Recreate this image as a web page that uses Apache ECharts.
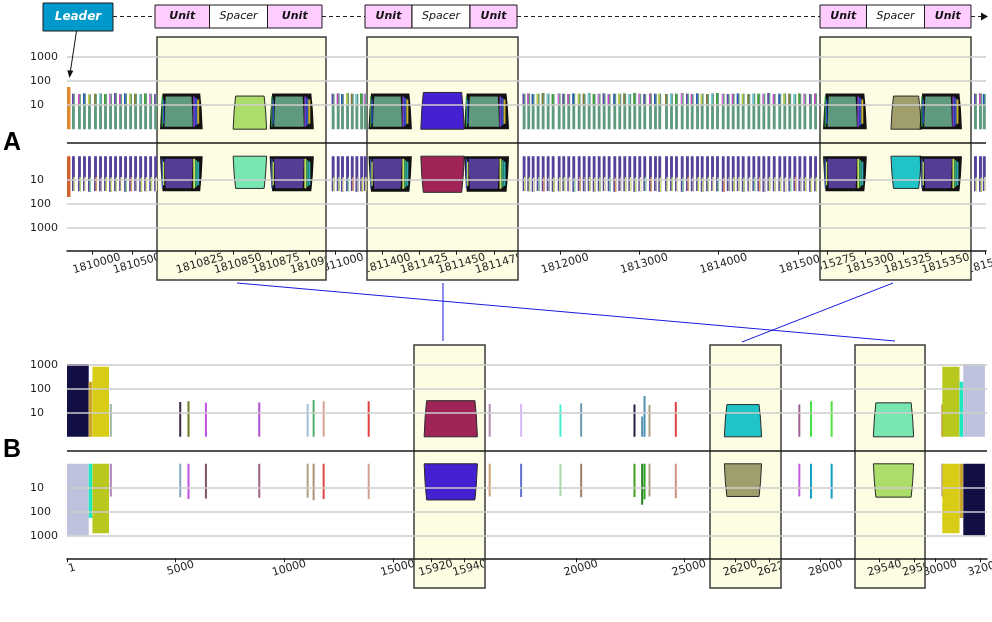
<!DOCTYPE html>
<html><head><meta charset="utf-8">
<script src="https://cdn.jsdelivr.net/npm/echarts@6/dist/echarts.min.js"></script>
<style>html,body{margin:0;padding:0;background:#fff}#c{width:992px;height:622px}</style>
</head><body><div id="c"></div>
<script>
// ================= DATA =================
const repeatLen = 36; // bp

// ---- Panel A : axis domains (bp) of the 7 segments (odd ones are zoom boxes)
const aRanges = [[1809690,1810812],[1810800,1810911],[1810890,1811400],[1811390,1811491],[1811470,1815277],[1815270,1815370],[1815320,1815505]];
const aTicks  = [[1810000,1810500],[1810825,1810850,1810875,1810900],[1811000],[1811400,1811425,1811450,1811475],[1812000,1813000,1814000,1815000],[1815275,1815300,1815325,1815350],[1815500]];

// leader block
const aLeaderStart = [1809688];
const aLeaderEnd   = [1809733];
const aLeaderUp    = [58];
const aLeaderDown  = [50];

// repeat copies (normal segments) – start positions, upper / lower coverage
const a1Pos  = [1809752,1809827,1809890,1809952,1810027,1810090,1810152,1810215,1810277,1810340,1810402,1810465,1810527,1810590,1810652,1810715,1810777];
const a1Up   = [30,29,31,28,30,31,29,30,32,29,31,30,30,29,31,30,29];
const a1Down = [28,29,28,30,28,29,28,30,29,28,30,29,28,30,29,28,29];

const a3Pos  = [1810961,1811024,1811077,1811140,1811199,1811256,1811315,1811360];
const a3Up   = [30,31,29,32,30,29,31,30];
const a3Down = [29,28,30,29,28,30,29,28];

const a5Pos  = [1811529,1811587,1811643,1811706,1811769,1811832,1811895,1811971,1812029,1812092,
                1812155,1812223,1812286,1812349,1812412,1812475,1812538,1812601,1812672,1812735,
                1812798,1812861,1812924,1812987,1813050,1813122,1813185,1813239,1813324,1813387,
                1813450,1813522,1813588,1813648,1813715,1813774,1813841,1813904,1813967,1814039,
                1814102,1814165,1814228,1814291,1814362,1814425,1814488,1814551,1814614,1814682,
                1814752,1814815,1814878,1814942,1815005,1815068,1815140,1815203];
const a5Up   = [30,31,29,30,32,30,29,31,30,29, 31,30,30,32,29,30,31,29,30,30, 31,29,32,30,29,31,30,30,29,31,
                30,32,30,29,31,30,29,31,32,30, 29,30,31,30,29,31,30,30,32,29, 30,31,30,29,31,30,29,31];
const a5Down = [28,29,30,28,29,28,30,29,28,29, 30,28,29,28,30,29,28,29,30,28, 29,28,30,29,28,29,28,30,29,28,
                29,30,28,29,28,30,29,28,29,30, 28,29,28,30,29,28,29,30,28,29, 28,30,29,28,29,28,30,29];

const a7Pos  = [1815357,1815419,1815466];
const a7Up   = [30,31,29];
const a7Down = [29,30,28];

// zoomed unit / spacer / unit blocks
const az1Start = [1810802,1810850,1810874];
const az1End   = [1810830,1810872,1810903];
const az1Up    = [31,24,31];
const az1Down  = [29,22,29];

const az2Start = [1811391,1811426,1811455];
const az2End   = [1811420,1811455,1811485];
const az2Up    = [31,34,31];
const az2Down  = [30,32,30];

const az3Start = [1815272,1815317,1815336];
const az3End   = [1815301,1815337,1815364];
const az3Up    = [31,24,31];
const az3Down  = [29,22,29];

// ---- Panel B
const bRanges = [[1,15975],[15910,15952],[15790,26200],[26185,26227],[26165,29590],[29526,29566],[29545,32320]];
const bTicks  = [[1,5000,10000,15000],[15920,15940],[20000,25000],[26200,26220],[28000],[29540,29560],[30000,32000]];

const bFlankLStart = [1,1001,1171];
const bFlankLEnd   = [1001,1171,1936];
const bFlankLUp    = [1070,195,820];
const bFlankLDown  = [970,183,776];

const bFlankRStart = [30318,31091,31259];
const bFlankREnd   = [31091,31259,32227];
const bFlankRUp    = [820,195,1070];
const bFlankRDown  = [776,183,970];

const bThinPos  = [2001,5195,5576,6378,8834,11060,11336,11797,13871,15989,17443,19262,20221,22688,23045,23153,23383,24600,26995,27537,28491,30305];
const bThinUp   = [23,28,30,26,27,23,34,30,30,23,24,22,25,22,7,50,21,28,22,30,30,22];
const bThinDown = [23,25,29,28,26,26,33,29,29,23,24,22,25,24,51,30,23,27,23,28,28,23];

const bz1Start = [15916]; const bz1End = [15947.5]; const bz1Up = [32]; const bz1Down = [32];
const bz2Start = [26193.5]; const bz2End = [26215.5]; const bz2Up = [22]; const bz2Down = [23];
const bz3Start = [29536.5]; const bz3End = [29559.5]; const bz3Up = [26]; const bz3Down = [24.5];

// ================= STYLE / LAYOUT =================
const A_X = [67,157,326,367,518,820,971,986];
const B_X = [67,414,485,710,781,855,925,987];
const A_TOP = 37.1, B_TOP = 344.7, PLOT_H = 213.6;
const A_BOX = [37,280], B_BOX = [345,588];
const OFF = 0.5625;
const Y_TICKS = [3.5625,2.5625,1.5625,-1.5625,-2.5625,-3.5625];
const FONT = '"DejaVu Sans", Verdana, sans-serif';
const ROT = 16*Math.PI/180;

const C_UNIT_UP = '#5f9a7e', C_UNIT_DN = '#553d96';
const ACC_UP = ['#6b3fb5','#d040c8','#2850c0','#c8d040','#8a7a30','#7ad0e0','#40a030','#e070e0'];
const ACC_DN = ['#d8e880','#b8e070','#f0f0b0','#80d0a0','#e0a060','#a8a8a8','#c8e060'];
const SLV_UP_R = ['#7040c0','#2c4fd0','#c8b030'], SLV_DN_R = ['#c8e060','#2fa070','#30a8b0'];
const SLV_UP_L = ['#2f9f40','#3050d0'], SLV_DN_L = ['#4060c0','#c8e060'];
const aSpacerUpColors = ['#acdc6a','#4520d0','#a09e6c'];
const aSpacerDnColors = ['#78e8b0','#a02458','#20c4c6'];
const bSpacerUpColors = ['#a02458','#20c4c6','#78e8b0'];
const bSpacerDnColors = ['#4520d0','#a09e6c','#acdc6a'];
const bFlankLUpColors = ['#120f45','#c8a62e','#d8cc16'];
const bFlankLDnColors = ['#bec2dc','#1ee8c0','#b8c81e'];
const bFlankRUpColors = ['#b8c81e','#1ee8c0','#bec2dc'];
const bFlankRDnColors = ['#d8cc16','#c8a62e','#120f45'];
const bThinUpColors = ['#a0b8a0','#3a2a40','#6a7a20','#c050e0','#b050d0','#a0c0d8','#50b070','#d8a090','#e04040',
                       '#b090b0','#d8b8f8','#40f0d0','#7098b0','#202040','#5090b0','#5090b0','#b0a080','#e04040',
                       '#a06090','#40e040','#50e040','#c08030'];
const bThinDnColors = ['#b080b8','#80a8c0','#c050e0','#805060','#a06080','#b0a080','#b09070','#e04848','#d0a090',
                       '#d0a070','#6070d0','#a8d8a8','#a08060','#40a020','#208020','#30a020','#b0a080','#d09080',
                       '#c060e0','#10a0c0','#10a0c0','#b080b0'];

// ================= BUILD ITEMS =================
function thin(pos, up, dn){
  const out = [];
  pos.forEach((p,i)=>{
    out.push({s:p, e:p+repeatLen, v:up[i], side:1, kind:'thinA', color:C_UNIT_UP, accent:ACC_UP[i%ACC_UP.length]});
    out.push({s:p, e:p+repeatLen, v:dn[i], side:-1, kind:'thinA', color:'#55409a', accent:ACC_DN[i%ACC_DN.length]});
  });
  return out;
}
function blocks(st, en, up, dn, kinds, upC, dnC){
  const out = [];
  st.forEach((s,i)=>{
    out.push({s, e:en[i], v:up[i], side:1, kind:kinds[i], color: kinds[i]==='unit'?C_UNIT_UP:upC[i]});
    out.push({s, e:en[i], v:dn[i], side:-1, kind:kinds[i], color: kinds[i]==='unit'?C_UNIT_DN:dnC[i]});
  });
  return out;
}
const USU = ['unit','spacer','unit'];
const aSeg = [
  blocks(aLeaderStart,aLeaderEnd,aLeaderUp,aLeaderDown,['flank'],['#e08a30'],['#d0622e']).concat(thin(a1Pos,a1Up,a1Down)),
  blocks(az1Start,az1End,az1Up,az1Down,USU,[0,aSpacerUpColors[0]],[0,aSpacerDnColors[0]]),
  thin(a3Pos,a3Up,a3Down),
  blocks(az2Start,az2End,az2Up,az2Down,USU,[0,aSpacerUpColors[1]],[0,aSpacerDnColors[1]]),
  thin(a5Pos,a5Up,a5Down),
  blocks(az3Start,az3End,az3Up,az3Down,USU,[0,aSpacerUpColors[2]],[0,aSpacerDnColors[2]]),
  thin(a7Pos,a7Up,a7Down)
];
function bThinIn(r){
  const out=[];
  bThinPos.forEach((p,i)=>{ if(p>=r[0] && p<=r[1]){
    out.push({s:p,e:p+repeatLen,v:bThinUp[i],side:1,kind:'thinB',color:bThinUpColors[i]});
    out.push({s:p,e:p+repeatLen,v:bThinDown[i],side:-1,kind:'thinB',color:bThinDnColors[i]});
  }});
  return out;
}
const F3 = ['flank','flank','flank'];
const bSeg = [
  blocks(bFlankLStart,bFlankLEnd,bFlankLUp,bFlankLDown,F3,bFlankLUpColors,bFlankLDnColors).concat(bThinIn(bRanges[0])),
  blocks(bz1Start,bz1End,bz1Up,bz1Down,['spacer'],[bSpacerUpColors[0]],[bSpacerDnColors[0]]),
  bThinIn(bRanges[2]),
  blocks(bz2Start,bz2End,bz2Up,bz2Down,['spacer'],[bSpacerUpColors[1]],[bSpacerDnColors[1]]),
  bThinIn(bRanges[4]),
  blocks(bz3Start,bz3End,bz3Up,bz3Down,['spacer'],[bSpacerUpColors[2]],[bSpacerDnColors[2]]),
  bThinIn(bRanges[6]).concat(blocks(bFlankRStart,bFlankREnd,bFlankRUp,bFlankRDown,F3,bFlankRUpColors,bFlankRDnColors))
];

// ================= RENDER =================
function toU(v, side){ return side*(OFF + Math.log10(v)); }
function R(x,y,w,h,fill){ return {type:'rect', shape:{x,y,width:w,height:h}, style:{fill}}; }
function trap(x0,x1,yb,yt,t){ const ym = yb+(yt-yb)*0.55; return [[x0,yb],[x0+t*0.4,ym],[x0+t,yt],[x1-t,yt],[x1-t*0.4,ym],[x1,yb]]; }
function makeRender(items){
  return function(params, api){
    const it = items[params.dataIndex];
    const pb = api.coord([it.s, it.side*OFF]);
    const pt = api.coord([it.e, toU(it.v, it.side)]);
    let x0 = pb[0], x1 = pt[0];
    const yb = pb[1], yt = pt[1];
    const minW = it.kind==='thinB' ? 2 : (it.kind==='thinA' ? 2.4 : 0);
    if (x1-x0 < minW){ const c=(x0+x1)/2; x0=c-minW/2; x1=c+minW/2; }
    const w = x1-x0, h = Math.abs(yt-yb), yTop = Math.min(yb,yt), dir = yt<yb?-1:1;
    const ch = [];
    if (it.kind==='thinA'){
      ch.push(R(x0,yTop,w,h,it.color));
      if (it.side>0) ch.push(R(x0,yt,w*0.5,h*0.3,it.accent));
      else ch.push(R(x0+w*0.5,yb+h*0.6,w*0.5,h*0.4,it.accent));
    } else if (it.kind==='thinB' || it.kind==='flank'){
      ch.push(R(x0,yTop,w,h,it.color));
    } else if (it.kind==='spacer'){
      ch.push({type:'polygon', shape:{points:trap(x0,x1,yb,yt,2.5)}, style:{fill:it.color, stroke:'#2a2a2a', lineWidth:1}});
    } else if (it.kind==='unit'){
      ch.push({type:'polygon', shape:{points:trap(x0,x1,yb,yt,2.5)}, style:{fill:'#111'}});
      const ib = yb + dir*2.5, itp = yt - dir*3;
      const iTop = Math.min(ib,itp), iH = Math.abs(itp-ib);
      const sl = it.side>0 ? SLV_UP_L : SLV_DN_L, sr = it.side>0 ? SLV_UP_R : SLV_DN_R;
      ch.push(R(x0+1.6,iTop,1.3,iH,sl[0]));
      ch.push(R(x0+2.9,iTop+iH*0.1,1.3,iH*0.8,sl[1]));
      ch.push({type:'polygon', shape:{points:trap(x0+4.5,x1-10,ib,itp,1.2)}, style:{fill:it.color}});
      ch.push(R(x1-9.5,iTop,2,iH,sr[0]));
      ch.push(R(x1-7.5,iTop+iH*0.05,2,iH*0.9,sr[1]));
      ch.push(R(x1-5.5,iTop+iH*0.1,2,iH*0.8,sr[2]));
    }
    return {type:'group', children:ch};
  };
}

// ================= OPTION =================
const grids=[], xAxes=[], yAxes=[], series=[];
function yLabel(v){ return String(Math.round(Math.pow(10, Math.abs(v)-OFF))); }
function addPanel(xs, ranges, ticks, top, segs, margin, boxY){
  for (let i=0;i<ranges.length;i++){
    const zoom = i%2===1, gi = grids.length;
    grids.push({left:xs[i], width:xs[i+1]-xs[i], top:top, height:PLOT_H, containLabel:false, outerBoundsMode:'none'});
    const tk = ticks[i];
    xAxes.push({type:'value', gridIndex:gi, min:ranges[i][0], max:ranges[i][1], z: zoom?6:0,
      axisLine:{show:true, onZero:false, lineStyle:{color:'#1a1a1a', width:1.5}},
      axisTick:{show:true, length:4, customValues:tk, lineStyle:{color:'#1a1a1a'}},
      axisLabel:{show:false}, splitLine:{show:false}});
    yAxes.push({type:'value', gridIndex:gi, min:-4.5, max:4.4, z: zoom?6:3,
      axisLine:{show:false}, axisTick:{show:false, customValues:Y_TICKS},
      axisLabel:{show:i===0, customValues:Y_TICKS, showMinLabel:true, showMaxLabel:true, align:'left', margin:37, color:'#1e1e1e', fontSize:11, fontFamily:FONT, formatter:yLabel},
      splitLine:{show:true, lineStyle:{color:'#cdcdcd', width:1.5}}});
    const items = segs[i];
    series.push({type:'custom', xAxisIndex:gi, yAxisIndex:gi, z: zoom?5:2, clip:true, silent:true,
      renderItem: makeRender(items), data: items.map(it=>[it.s, it.e, it.v]),
      markLine:{silent:true, symbol:'none', z: zoom?7:4, animation:false, label:{show:false},
        lineStyle:{color:'#1a1a1a', width:1.5, type:'solid'}, data:[{yAxis:0}]}});
    // tick labels of this segment, placed through the axis scale
    const x0 = xs[i], x1 = xs[i+1];
    series.push({type:'custom', xAxisIndex:gi, yAxisIndex:gi, z: zoom?6:0, clip:false, silent:true,
      data: tk.map(v=>[v,-4.5]),
      renderItem: (params, api) => {
        const v = tk[params.dataIndex];
        const p = api.coord([v, -4.5]);
        const t = {type:'text', x:p[0]+5, y:p[1]+margin, rotation:ROT,
          style:{text:String(v), fill:'#1e1e1e', font:'11px '+FONT, align:'center', verticalAlign:'middle'}};
        if (!zoom) return t;
        return {type:'group', clipPath:{type:'rect', shape:{x:x0+0.8, y:p[1]+1, width:x1-x0-1.6, height:boxY[1]-p[1]-2}}, children:[t]};
      }});
  }
}
addPanel(A_X, aRanges, aTicks, A_TOP, aSeg, 13, A_BOX);
addPanel(B_X, bRanges, bTicks, B_TOP, bSeg, 10, B_BOX);

// ---------- annotations ----------
const G = [];
function boxes(xs, y0, y1){ for (let i=1;i<xs.length-1;i+=2) G.push({type:'rect', z:1, silent:true, shape:{x:xs[i], y:y0, width:xs[i+1]-xs[i], height:y1-y0}, style:{fill:'#fdfde3', stroke:'#3c3c3c', lineWidth:1.5}}); }
boxes(A_X, A_BOX[0], A_BOX[1]);
boxes(B_X, B_BOX[0], B_BOX[1]);
// header
const HDR = [[155,322],[365,517],[820,971]], HY = 5, HH = 23, HM = HY+HH/2, SPW = 58;
G.push({type:'rect', z:10, shape:{x:43,y:3,width:70,height:28}, style:{fill:'#0099cc', stroke:'#1a1a1a', lineWidth:1}});
G.push({type:'text', z:11, x:78, y:17, style:{text:'Leader', fill:'#fff', font:'italic bold 12px '+FONT, align:'center', verticalAlign:'middle'}});
const dashSegs = [[113,HDR[0][0]],[HDR[0][1],HDR[1][0]],[HDR[1][1],HDR[2][0]],[HDR[2][1],981]];
dashSegs.forEach(d=>G.push({type:'line', z:10, shape:{x1:d[0],y1:HM,x2:d[1],y2:HM}, style:{stroke:'#222', lineWidth:1, lineDash:[4,3]}}));
G.push({type:'polygon', z:10, shape:{points:[[981,12.5],[988,HM],[981,20.5]]}, style:{fill:'#111'}});
HDR.forEach(g=>{
  const c=(g[0]+g[1])/2, s0=c-SPW/2, s1=c+SPW/2;
  [[g[0],s0,'Unit','#ffccff','italic bold 11px '],[s0,s1,'Spacer','#ffffff','italic 11px '],[s1,g[1],'Unit','#ffccff','italic bold 11px ']].forEach(b=>{
    G.push({type:'rect', z:10, shape:{x:b[0],y:HY,width:b[1]-b[0],height:HH}, style:{fill:b[3], stroke:'#1a1a1a', lineWidth:1}});
    G.push({type:'text', z:11, x:(b[0]+b[1])/2, y:HM, style:{text:b[2], fill:'#111', font:b[4]+FONT, align:'center', verticalAlign:'middle'}});
  });
});
// leader arrow
G.push({type:'line', z:10, shape:{x1:76.5,y1:31,x2:70.3,y2:72}, style:{stroke:'#111', lineWidth:1}});
G.push({type:'polygon', z:10, shape:{points:[[69.5,78],[73.3,70.8],[67.3,70.2]]}, style:{fill:'#111'}});
// panel letters
G.push({type:'text', z:10, x:3, y:143, style:{text:'A', fill:'#000', font:'900 25px "Liberation Sans", Arial, sans-serif', verticalAlign:'middle'}});
G.push({type:'text', z:10, x:3, y:450, style:{text:'B', fill:'#000', font:'900 25px "Liberation Sans", Arial, sans-serif', verticalAlign:'middle'}});
// connectors
[[237,283,895,341],[443,283,443,341],[893,283,742,342]].forEach(l=>G.push({type:'line', z:10, shape:{x1:l[0],y1:l[1],x2:l[2],y2:l[3]}, style:{stroke:'#1a1ae0', lineWidth:1}}));

const chart = echarts.init(document.getElementById('c'), null, {renderer:'canvas'});
chart.setOption({backgroundColor:'#ffffff', animation:false, grid:grids, xAxis:xAxes, yAxis:yAxes, series:series, graphic:{elements:G}});
</script></body></html>
